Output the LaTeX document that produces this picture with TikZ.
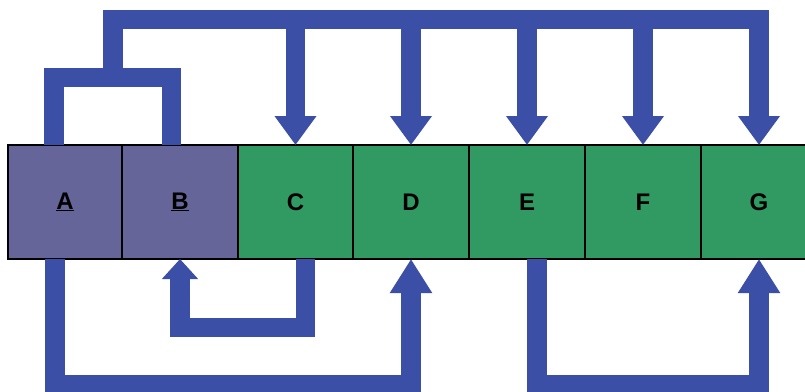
\documentclass[tikz,border=0pt]{standalone}
\usepackage{fontspec}
\setmainfont{Liberation Sans}
\usetikzlibrary{arrows.meta}
\definecolor{boxpurple}{HTML}{65659A}
\definecolor{boxgreen}{HTML}{319A63}
\definecolor{pipeblue}{HTML}{3B4FA7}
\begin{document}
\begin{tikzpicture}[x=1pt,y=-1pt,
  cell/.style={minimum width=116pt,minimum height=114pt,
    inner sep=0pt,outer sep=0pt,font=\fontsize{24}{26}\selectfont\bfseries,text=black},
  pcell/.style={cell,fill=boxpurple},
  gcell/.style={cell,fill=boxgreen},
  cellborder/.style={draw=black,line width=2pt},
  pipe/.style={draw=pipeblue,line width=19.5pt,line join=miter,line cap=butt},
  tophead/.style={-{Triangle[width=40pt,length=29pt]}},
  bighead/.style={-{Triangle[width=40pt,length=34pt]}},
  smallhead/.style={-{Triangle[width=35pt,length=20pt]}}]
\useasboundingbox (0,0) rectangle (805,391);
\fill[white] (0,0) rectangle (805,391);
% boxes
\node[pcell,minimum width=114pt] (A) at (65,202) {\underline{A}};
\node[pcell] (B) at (180,202) {\underline{B}};
\node[gcell,minimum width=115pt] (C) at (295.5,202) {C};
\node[gcell] (D) at (411,202) {D};
\node[gcell] (E) at (527,202) {E};
\node[gcell] (F) at (643,202) {F};
\node[gcell] (G) at (759,202) {G};
\foreach \n in {A,B,C,D,E,F,G}
  \draw[cellborder] (\n.north west) rectangle (\n.south east);
% top structure
\coordinate (abar) at (113,77.5);
\coordinate (topbar) at (113,19.5);
\draw[pipe] ([xshift=-11pt]A.north) |- (abar) -| ([xshift=-8.5pt]B.north);
\draw[pipe,tophead] (abar) -- (topbar) -| (G.north);
\draw[pipe,tophead] (topbar -| C.north) -- (C.north);
\draw[pipe,tophead] (topbar -| D.north) -- (D.north);
\draw[pipe,tophead] (topbar -| E.north) -- (E.north);
\draw[pipe,tophead] (topbar -| F.north) -- (F.north);
% bottom structure
\coordinate (lowbar) at (0,384.5);
\coordinate (midbar) at (0,327.5);
\draw[pipe,bighead] ([xshift=-10pt]A.south) |- (lowbar -| D.south) -- (D.south);
\draw[pipe,smallhead] ([xshift=10pt]C.south) |- (midbar -| B.south) -- (B.south);
\draw[pipe,bighead] ([xshift=10pt]E.south) |- (lowbar -| G.south) -- (G.south);
\end{tikzpicture}
\end{document}
